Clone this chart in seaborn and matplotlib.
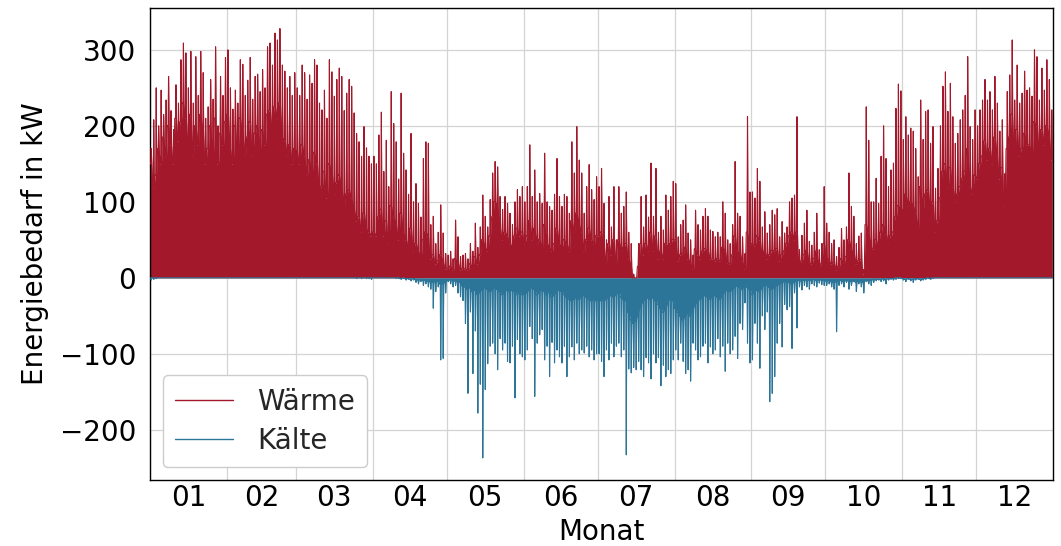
import numpy as np
import pandas as pd
import matplotlib
matplotlib.use("Agg")
import matplotlib.pyplot as plt
import seaborn as sns

# ---------------- data ----------------
monate = ["01", "02", "03", "04", "05", "06", "07", "08", "09", "10", "11", "12"]
monatstage = [31, 28, 31, 30, 31, 30, 31, 31, 30, 31, 30, 31]
y_ticks = [-200, -100, 0, 100, 200, 300]

# Wärme: daily peak and daily base ("body") level in kW
waerme_spitze_01 = [170, 208, 250, 200, 247, 215, 234, 265, 220, 195, 254, 230, 287, 309, 296, 250, 298, 230, 291, 240, 298, 270, 210, 225, 261, 235, 304, 200, 265, 240, 290]
waerme_spitze_02 = [300, 250, 222, 247, 230, 287, 281, 240, 260, 290, 235, 265, 268, 245, 274, 250, 304, 309, 280, 322, 313, 328, 280, 272, 250, 265, 240, 270]
waerme_spitze_03 = [250, 240, 280, 270, 235, 267, 256, 287, 280, 230, 221, 247, 210, 287, 271, 239, 261, 276, 265, 220, 243, 261, 252, 217, 190, 179, 160, 199, 171, 160, 150]
waerme_spitze_04 = [160, 150, 188, 218, 140, 181, 120, 245, 203, 179, 130, 243, 164, 142, 110, 190, 100, 124, 98, 80, 157, 179, 177, 70, 81, 45, 60, 96, 59, 32]
waerme_spitze_05 = [30, 35, 25, 76, 54, 28, 30, 32, 25, 45, 35, 72, 40, 67, 109, 81, 67, 103, 138, 153, 146, 107, 90, 107, 98, 85, 70, 100, 116, 107, 120]
waerme_spitze_06 = [100, 120, 175, 107, 142, 100, 111, 98, 164, 100, 94, 89, 110, 157, 107, 94, 110, 107, 85, 179, 138, 199, 155, 138, 85, 120, 149, 116, 103, 133]
waerme_spitze_07 = [120, 144, 98, 50, 107, 67, 120, 50, 120, 85, 94, 113, 60, 45, 5, 0, 45, 107, 67, 109, 80, 151, 81, 144, 60, 81, 63, 109, 89, 107, 127]
waerme_spitze_08 = [124, 54, 70, 76, 96, 59, 50, 30, 89, 70, 63, 81, 91, 81, 63, 61, 54, 60, 54, 100, 85, 50, 45, 70, 153, 85, 81, 54, 32, 212, 113]
waerme_spitze_09 = [113, 105, 144, 127, 67, 87, 59, 70, 89, 83, 91, 54, 74, 59, 67, 100, 105, 109, 212, 37, 56, 72, 89, 48, 43, 60, 85, 37, 45, 120]
waerme_spitze_10 = [72, 60, 45, 50, 28, 40, 65, 50, 67, 138, 94, 81, 45, 55, 59, 11, 225, 181, 100, 100, 131, 98, 160, 200, 157, 120, 142, 151, 223, 255, 246]
waerme_spitze_11 = [182, 212, 188, 197, 193, 170, 133, 234, 182, 219, 221, 177, 199, 118, 144, 200, 252, 271, 219, 256, 212, 177, 190, 208, 221, 240, 291, 199, 182, 221]
waerme_spitze_12 = [200, 221, 234, 261, 234, 245, 221, 265, 230, 193, 208, 137, 245, 267, 313, 234, 280, 230, 243, 272, 247, 250, 239, 300, 291, 234, 276, 247, 287, 261, 221]

waerme_basis_01 = [150, 120, 135, 170, 150, 185, 160, 200, 175, 150, 210, 180, 205, 230, 210, 170, 215, 160, 200, 175, 215, 190, 150, 170, 200, 165, 210, 150, 190, 175, 205]
waerme_basis_02 = [215, 170, 150, 200, 165, 210, 190, 160, 185, 205, 160, 190, 200, 170, 195, 175, 215, 220, 190, 225, 210, 230, 185, 180, 160, 175, 150, 170]
waerme_basis_03 = [165, 150, 175, 160, 135, 155, 140, 165, 150, 115, 120, 140, 105, 150, 140, 110, 125, 135, 120, 95, 110, 115, 105, 90, 75, 80, 60, 85, 65, 60, 55]
waerme_basis_04 = [60, 55, 80, 90, 55, 75, 45, 95, 80, 70, 50, 85, 60, 50, 40, 65, 35, 45, 35, 28, 50, 60, 55, 25, 30, 18, 22, 30, 20, 12]
waerme_basis_05 = [12, 15, 10, 25, 20, 10, 12, 12, 10, 18, 15, 28, 18, 30, 50, 40, 35, 55, 80, 100, 95, 65, 50, 60, 55, 45, 40, 55, 65, 55, 60]
waerme_basis_06 = [45, 55, 75, 50, 65, 45, 50, 40, 70, 45, 40, 35, 45, 65, 45, 40, 50, 45, 35, 75, 60, 85, 70, 60, 35, 50, 65, 50, 45, 55]
waerme_basis_07 = [55, 60, 40, 20, 45, 30, 50, 20, 50, 35, 40, 45, 25, 15, 0, 0, 15, 45, 30, 45, 35, 60, 35, 55, 25, 35, 25, 45, 40, 45, 50]
waerme_basis_08 = [50, 22, 30, 32, 40, 25, 20, 12, 38, 30, 25, 35, 38, 35, 25, 25, 22, 25, 22, 40, 35, 20, 18, 30, 55, 35, 32, 22, 12, 60, 45]
waerme_basis_09 = [45, 42, 55, 50, 28, 35, 25, 30, 36, 35, 38, 22, 30, 35, 45, 55, 60, 50, 60, 15, 22, 30, 36, 20, 18, 25, 35, 15, 18, 45]
waerme_basis_10 = [28, 22, 18, 20, 10, 15, 25, 20, 28, 50, 38, 32, 18, 22, 24, 5, 70, 60, 40, 38, 50, 40, 60, 70, 58, 45, 55, 60, 80, 95, 90]
waerme_basis_11 = [90, 110, 95, 100, 95, 85, 65, 120, 90, 110, 115, 90, 100, 60, 75, 105, 140, 150, 120, 145, 120, 100, 110, 120, 130, 140, 170, 120, 110, 135]
waerme_basis_12 = [130, 150, 160, 180, 155, 170, 150, 185, 160, 130, 145, 95, 170, 185, 215, 165, 195, 160, 170, 190, 175, 175, 165, 205, 200, 165, 195, 175, 200, 185, 155]

# Kälte: daily peak and daily base level in kW (negative)
kaelte_spitze_01 = [-3, -2, -1, 0, 0, 0, 0, 0, 0, 0, 0, 0, 0, 0, 0, 0, 0, 0, 0, 0, 0, 0, 0, 0, 0, 0, 0, 0, 0, 0, 0]
kaelte_spitze_02 = [0, 0, 0, 0, 0, 0, 0, 0, 0, 0, 0, 0, 0, 0, 0, 0, 0, 0, 0, 0, 0, 0, 0, 0, 0, 0, 0, 0]
kaelte_spitze_03 = [0, 0, 0, 0, 0, 0, 0, 0, 0, 0, 0, 0, 0, 0, 0, 0, 0, 0, 0, 0, 0, 0, 0, 0, -1, 0, -1, 0, -1, -1, -2]
kaelte_spitze_04 = [0, 0, 0, 0, 0, 0, 0, 0, 0, -1, -1, -2, -1, -3, -2, -4, -3, -6, -8, -5, -10, -8, -12, -15, -40, -18, -12, -108, -106, -20]
kaelte_spitze_05 = [-5, -8, -12, -10, -20, -25, -30, -60, -152, -45, -126, -70, -178, -140, -237, -147, -113, -90, -86, -100, -121, -80, -95, -86, -110, -112, -90, -158, -81, -100, -104]
kaelte_spitze_06 = [-108, -95, -64, -80, -156, -86, -75, -68, -108, -90, -130, -85, -112, -95, -104, -112, -90, -130, -104, -91, -108, -86, -100, -95, -99, -90, -104, -95, -108, -100]
kaelte_spitze_07 = [-100, -110, -130, -95, -108, -86, -104, -90, -86, -104, -95, -233, -120, -125, -118, -121, -110, -121, -130, -105, -112, -133, -100, -112, -105, -142, -115, -130, -121, -126, -108]
kaelte_spitze_08 = [-95, -108, -86, -110, -126, -121, -136, -86, -95, -108, -104, -90, -86, -112, -91, -100, -95, -80, -104, -90, -123, -86, -100, -95, -77, -106, -60, -68, -33, -86, -112]
kaelte_spitze_09 = [-108, -60, -86, -119, -50, -68, -45, -163, -152, -130, -86, -60, -91, -35, -42, -38, -93, -20, -66, -12, -16, -10, -12, -15, -8, -10, -12, -7, -9, -10]
kaelte_spitze_10 = [-10, -8, -12, -15, -71, -10, -8, -12, -6, -15, -10, -5, -18, -8, -12, -20, -5, -8, -10, -6, -4, -3, -5, -4, -8, -3, -2, -3, -2, -1, -1]
kaelte_spitze_11 = [-3, -5, -2, -4, -6, -3, -2, -4, -3, -2, -1, -2, -1, 0, 0, 0, 0, 0, 0, 0, 0, 0, 0, 0, 0, 0, 0, 0, 0, 0]
kaelte_spitze_12 = [0, 0, 0, 0, 0, 0, 0, 0, 0, 0, 0, 0, 0, 0, 0, 0, 0, 0, 0, 0, 0, 0, 0, 0, 0, 0, 0, 0, 0, 0, 0]

kaelte_basis_01 = [0, 0, 0, 0, 0, 0, 0, 0, 0, 0, 0, 0, 0, 0, 0, 0, 0, 0, 0, 0, 0, 0, 0, 0, 0, 0, 0, 0, 0, 0, 0]
kaelte_basis_02 = [0, 0, 0, 0, 0, 0, 0, 0, 0, 0, 0, 0, 0, 0, 0, 0, 0, 0, 0, 0, 0, 0, 0, 0, 0, 0, 0, 0]
kaelte_basis_03 = [0, 0, 0, 0, 0, 0, 0, 0, 0, 0, 0, 0, 0, 0, 0, 0, 0, 0, 0, 0, 0, 0, 0, 0, 0, 0, 0, 0, 0, 0, 0]
kaelte_basis_04 = [0, 0, 0, 0, 0, 0, 0, 0, 0, 0, 0, -1, 0, -1, -1, -2, -1, -2, -3, -2, -3, -3, -4, -5, -6, -5, -4, -8, -8, -5]
kaelte_basis_05 = [-2, -3, -3, -4, -5, -6, -10, -12, -15, -12, -18, -15, -22, -18, -15, -12, -15, -18, -15, -12, -15, -18, -22, -18, -15, -18, -15, -18, -22, -18, -22]
kaelte_basis_06 = [-22, -18, -15, -12, -15, -22, -18, -15, -18, -22, -15, -25, -22, -18, -15, -18, -22, -25, -28, -30, -28, -25, -28, -25, -22, -25, -28, -30, -28, -30]
kaelte_basis_07 = [-28, -30, -30, -28, -25, -22, -25, -22, -18, -25, -28, -30, -45, -55, -60, -55, -45, -35, -30, -28, -25, -28, -25, -30, -35, -40, -45, -40, -30, -28, -30]
kaelte_basis_08 = [-40, -45, -50, -55, -50, -45, -50, -40, -35, -30, -28, -25, -22, -25, -28, -25, -22, -25, -28, -22, -18, -15, -18, -15, -12, -10, -12, -15, -10, -12, -15]
kaelte_basis_09 = [-22, -18, -15, -18, -12, -10, -10, -12, -15, -12, -10, -8, -6, -5, -5, -6, -8, -5, -4, -3, -4, -3, -3, -3, -3, -2, -3, -3, -2, -3]
kaelte_basis_10 = [-4, -3, -5, -6, -5, -4, -3, -5, -3, -4, -5, -3, -6, -4, -5, -6, -3, -4, -3, -2, -2, -2, -2, -1, -2, -1, -1, -1, 0, 0, 0]
kaelte_basis_11 = [-1, -2, -1, -2, -2, -1, -1, -2, -1, -1, 0, -1, 0, 0, 0, 0, 0, 0, 0, 0, 0, 0, 0, 0, 0, 0, 0, 0, 0, 0]
kaelte_basis_12 = [0, 0, 0, 0, 0, 0, 0, 0, 0, 0, 0, 0, 0, 0, 0, 0, 0, 0, 0, 0, 0, 0, 0, 0, 0, 0, 0, 0, 0, 0, 0]

# ---------------- assemble ----------------
waerme_spitze = np.concatenate([waerme_spitze_01, waerme_spitze_02, waerme_spitze_03, waerme_spitze_04, waerme_spitze_05, waerme_spitze_06,
                                waerme_spitze_07, waerme_spitze_08, waerme_spitze_09, waerme_spitze_10, waerme_spitze_11, waerme_spitze_12])
waerme_basis = np.concatenate([waerme_basis_01, waerme_basis_02, waerme_basis_03, waerme_basis_04, waerme_basis_05, waerme_basis_06,
                               waerme_basis_07, waerme_basis_08, waerme_basis_09, waerme_basis_10, waerme_basis_11, waerme_basis_12])
kaelte_spitze = np.concatenate([kaelte_spitze_01, kaelte_spitze_02, kaelte_spitze_03, kaelte_spitze_04, kaelte_spitze_05, kaelte_spitze_06,
                                kaelte_spitze_07, kaelte_spitze_08, kaelte_spitze_09, kaelte_spitze_10, kaelte_spitze_11, kaelte_spitze_12])
kaelte_basis = np.concatenate([kaelte_basis_01, kaelte_basis_02, kaelte_basis_03, kaelte_basis_04, kaelte_basis_05, kaelte_basis_06,
                               kaelte_basis_07, kaelte_basis_08, kaelte_basis_09, kaelte_basis_10, kaelte_basis_11, kaelte_basis_12])

n_tage = len(waerme_spitze)
tage = np.arange(n_tage)
# within-day sample positions (base, base, peak, base)
versatz = np.array([0.0, 0.3, 0.5, 0.7])


def tagesverlauf(spitze, basis):
    x = (tage[:, None] + versatz[None, :]).ravel()
    y = np.stack([basis, basis, spitze, basis], axis=1).ravel()
    return x, y


xw, yw = tagesverlauf(waerme_spitze, waerme_basis)
xk, yk = tagesverlauf(kaelte_spitze, kaelte_basis)

df = pd.concat([
    pd.DataFrame({"Tag": xw, "Wert": yw, "Reihe": "Wärme"}),
    pd.DataFrame({"Tag": xk, "Wert": yk, "Reihe": "Kälte"}),
], ignore_index=True)

farben = {"Wärme": "#A3182A", "Kälte": "#2C7598"}

# ---------------- plot ----------------
sns.set_theme(style="whitegrid")
plt.rcParams["font.family"] = ["DejaVu Sans"]

fig = plt.figure(figsize=(10.61, 5.46), dpi=100)
ax = fig.add_axes([0.1414, 0.1209, 0.8511, 0.8644])

ax.fill_between(xw, 0, yw, color=farben["Wärme"], lw=0, zorder=2)
ax.fill_between(xk, 0, yk, color=farben["Kälte"], lw=0, zorder=3)
sns.lineplot(data=df, x="Tag", y="Wert", hue="Reihe", palette=farben,
             estimator=None, sort=False, lw=0.8, ax=ax, zorder=4)

monatsanfang = np.concatenate([[0], np.cumsum(monatstage)[:-1]])
monatsmitte = monatsanfang + np.array(monatstage) / 2

ax.set_xlim(0, n_tage)
ax.set_ylim(-266, 355)
ax.set_xticks(monatsanfang)
ax.set_xticklabels([])
ax.set_xticks(monatsmitte, minor=True)
ax.set_xticklabels(monate, minor=True)
ax.set_yticks(y_ticks)
ax.set_yticklabels([f"{v}".replace("-", "\u2212") for v in y_ticks])

ax.tick_params(axis="both", which="major", length=6, width=1, color="#333333",
               labelsize=20, labelcolor="black", direction="out")
ax.tick_params(axis="x", which="minor", length=0, labelsize=20, labelcolor="black", pad=3)
ax.tick_params(axis="y", which="major", pad=4)

ax.grid(True, which="major", color="#d4d4d4", lw=0.9)
ax.grid(False, which="minor")
for s in ax.spines.values():
    s.set_color("black")
    s.set_linewidth(1.0)

ax.set_xlabel("Monat", fontsize=20, color="black", labelpad=4)
ax.set_ylabel("Energiebedarf in kW", fontsize=20, color="black", labelpad=8)

handles, labels = ax.get_legend_handles_labels()
for h in handles:
    h.set_linewidth(1.0)
leg = ax.legend(handles, labels, loc="lower left", fontsize=20, frameon=True,
                handlelength=2.1, borderaxespad=0.45, borderpad=0.45,
                labelspacing=0.4, handletextpad=0.85, fancybox=True)
leg.get_frame().set_edgecolor("#cccccc")
leg.get_frame().set_alpha(1.0)
leg.set_zorder(10)

fig.savefig("out.png", dpi=100, facecolor="white")
